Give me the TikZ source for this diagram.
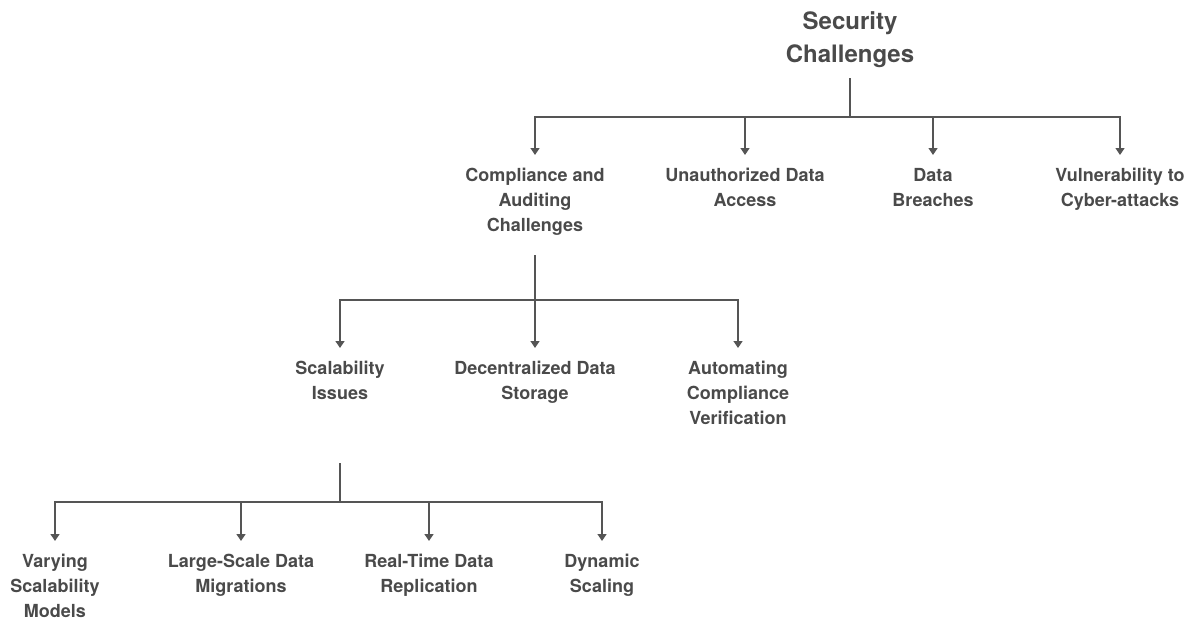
\documentclass[tikz,border=0pt]{standalone}
\usepackage{fontspec}
\setmainfont{TeX Gyre Heros}
\usetikzlibrary{arrows.meta}
\definecolor{ink}{HTML}{4A4A4A}
\definecolor{wire}{HTML}{555555}
\tikzset{
  item/.style={inner sep=0pt, anchor=north, align=center, text=ink,
    font=\fontsize{18}{25}\selectfont\bfseries},
  head/.style={inner sep=0pt, anchor=north, align=center, text=ink,
    font=\fontsize{24}{33}\selectfont\bfseries},
  link/.style={draw=wire, line width=1.3pt},
  feed/.style={link, -{Triangle[width=9pt,length=7pt]}},
}
\begin{document}
\begin{tikzpicture}[x=1pt,y=-1pt]
\useasboundingbox (0,0) rectangle (1191,622);

% root
\node[head] (root) at (850,11.5) {Security\\Challenges};

% first level
\node[item] (comp) at (535,168) {Compliance and\\Auditing\\Challenges};
\node[item] (unauth) at (745,168) {Unauthorized Data\\Access};
\node[item] (breach) at (933,168) {Data\\Breaches};
\node[item] (vuln) at (1120,168) {Vulnerability to\\Cyber-attacks};

% second level
\node[item] (scal) at (340,361) {Scalability\\Issues};
\node[item] (decent) at (535,361) {Decentralized Data\\Storage};
\node[item] (auto) at (738,361) {Automating\\Compliance\\Verification};

% third level
\node[item] (vary) at (55,554) {Varying\\Scalability\\Models};
\node[item] (large) at (241,554) {Large-Scale Data\\Migrations};
\node[item] (real) at (429,554) {Real-Time Data\\Replication};
\node[item] (dyn) at (602,554) {Dynamic\\Scaling};

% junction points of the branches
\coordinate (j0) at (850,117);
\coordinate (j1) at (535,300);
\coordinate (j2) at (340,502);

% root branches
\draw[link] (root.south |- 0,78) -- (j0);
\foreach \n in {comp,unauth,breach,vuln}
  \draw[feed] (j0) -| ([yshift=13pt]\n.north);

% compliance branches
\draw[link] (comp.south |- 0,255) -- (j1);
\foreach \n in {scal,decent,auto}
  \draw[feed] (j1) -| ([yshift=13pt]\n.north);

% scalability branches
\draw[link] (scal.south |- 0,463) -- (j2);
\foreach \n in {vary,large,real,dyn}
  \draw[feed] (j2) -| ([yshift=13pt]\n.north);
\end{tikzpicture}
\end{document}
